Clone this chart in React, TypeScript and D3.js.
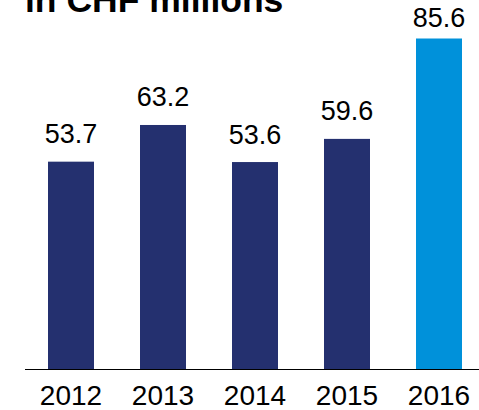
import React from "react";
import * as d3 from "d3";

const years = ["2012", "2013", "2014", "2015", "2016"];
const values = [53.7, 63.2, 53.6, 59.6, 85.6];
const barColors = ["#24306F", "#24306F", "#24306F", "#24306F", "#0091DA"];
const title = "in CHF millions";

const W = 479;
const H = 410;
const baseY = 369;

export default function App() {
  const x = d3.scaleBand<string>().domain(years).range([25, 485]).paddingInner(0.5).paddingOuter(0.25);
  const y = d3.scaleLinear().domain([0, 85.6]).range([baseY, 38.5]);
  const font = "'Liberation Sans', Arial, Helvetica, sans-serif";
  return (
    <svg
      width={W}
      height={H}
      style={{ position: "absolute", left: 0, top: 0, background: "#fff" }}
      fontFamily={font}
    >
      <text x={25} y={12} fontSize={35.5} fontWeight="bold" fill="#000">
        {title}
      </text>
      {years.map((yr, i) => (
        <rect
          key={yr}
          x={x(yr)!}
          y={y(values[i])}
          width={x.bandwidth()}
          height={baseY - y(values[i])}
          fill={barColors[i]}
        />
      ))}
      <line x1={25} x2={485} y1={baseY + 0.5} y2={baseY + 0.5} stroke="#000" strokeWidth={1} />
      {years.map((yr, i) => (
        <text
          key={"v" + yr}
          x={x(yr)! + x.bandwidth() / 2}
          y={Math.max(y(values[i]) - 18.5, 27)}
          fontSize={27}
          textAnchor="middle"
          fill="#000"
        >
          {values[i].toFixed(1)}
        </text>
      ))}
      {years.map((yr) => (
        <text
          key={"l" + yr}
          x={x(yr)! + x.bandwidth() / 2}
          y={405}
          fontSize={28}
          textAnchor="middle"
          fill="#000"
        >
          {yr}
        </text>
      ))}
    </svg>
  );
}
